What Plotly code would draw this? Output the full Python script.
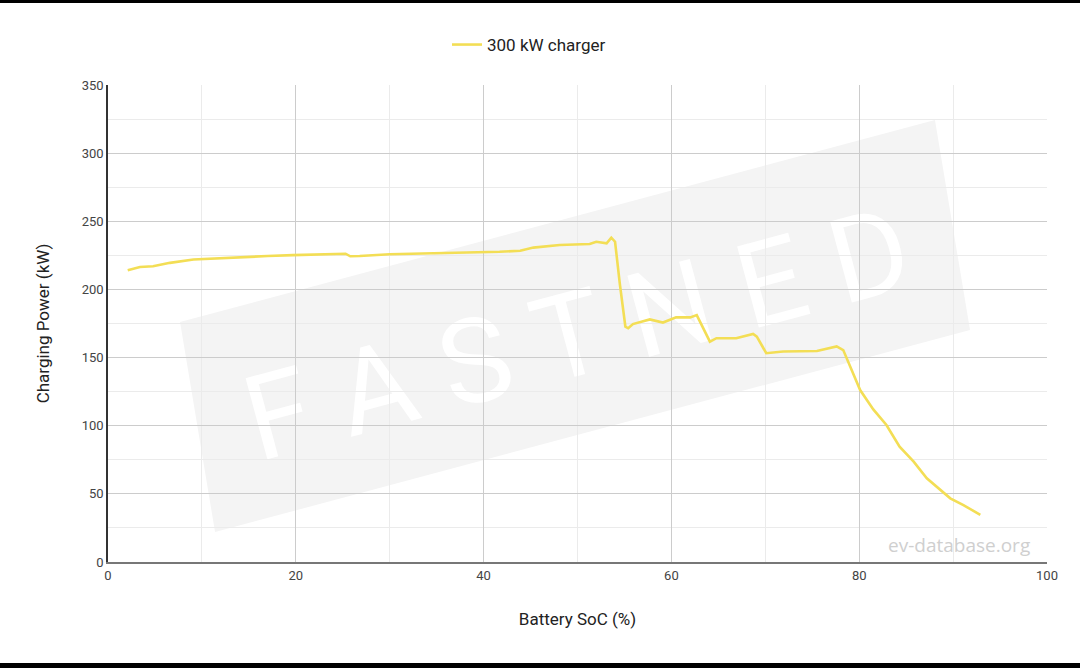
import plotly.graph_objects as go

# Data
soc = [2.1, 3.4, 4.8, 6.6, 9.1, 11.9, 14.4, 17.0, 19.7, 22.0, 24.7, 25.3, 25.8, 26.8,
       30.0, 35.0, 40.0, 41.7, 43.9, 45.3, 48.1, 51.3, 52.0, 53.1, 53.6, 54.0, 54.5,
       55.1, 55.4, 55.9, 57.7, 59.1, 60.5, 62.0, 62.7, 63.4, 64.1, 64.8, 66.9, 68.7,
       69.1, 70.1, 71.9, 75.5, 77.6, 78.3, 80.1, 81.5, 82.9, 84.3, 85.8, 87.2, 88.5,
       89.7, 91.1, 92.9]
power = [214.0, 216.5, 217.0, 219.5, 222.0, 223.0, 224.0, 224.5, 225.2, 225.8, 226.4,
         226.2, 224.3, 224.5, 225.8, 226.5, 227.0, 227.6, 228.4, 230.7, 232.6, 233.3,
         235.0, 233.8, 238.0, 235.0, 204.5, 172.7, 171.5, 174.6, 178.0, 175.7, 179.5,
         179.5, 181.2, 171.5, 161.7, 164.2, 164.2, 167.3, 165.4, 153.2, 154.4, 154.8,
         158.2, 155.5, 126.2, 112.0, 100.5, 84.6, 73.6, 61.4, 54.0, 46.7, 41.8, 34.5]
series_name = "300 kW charger"
x_ticks = [0, 20, 40, 60, 80, 100]
y_ticks = [0, 50, 100, 150, 200, 250, 300, 350]

FONT = "Roboto, Arial, sans-serif"

fig = go.Figure()
fig.add_trace(go.Scatter(
    x=soc, y=power, mode="lines", name=series_name,
    line=dict(color="#f3de55", width=2.6),
))

# watermark (decoration)
def d(px, py):
    return (px - 108) / 939, (562 - py) / 477
pts = [d(180, 322), d(935, 120), d(970, 330), d(215, 532)]
path = "M " + " L ".join(f"{a:.4f},{b:.4f}" for a, b in pts) + " Z"

fig.add_shape(
    type="path", path=path, xref="x domain", yref="y domain", layer="below",
    fillcolor="#f4f4f4", line=dict(width=0),
    label=dict(text="F A S T N E D", textangle=-15,
               font=dict(family=FONT, size=118, color="#ffffff")),
)

# black frame bands of the screenshot
fig.add_shape(type="rect", xref="paper", yref="paper", x0=-0.2, x1=1.1,
              y0=(562 - 3) / 477, y1=(562 + 10) / 477, fillcolor="black",
              line=dict(width=0), layer="above")
fig.add_shape(type="rect", xref="paper", yref="paper", x0=-0.2, x1=1.1,
              y0=(562 - 663) / 477, y1=(562 - 680) / 477, fillcolor="black",
              line=dict(width=0), layer="above")

fig.add_annotation(
    text="ev-database.org", xref="paper", yref="paper",
    x=(1032 - 108) / 939, y=(562 - 545) / 477, xanchor="right", yanchor="middle",
    showarrow=False, font=dict(family="Open Sans, sans-serif", size=19, color="#cfcfcf"),
)

fig.update_layout(
    width=1080, height=668,
    margin=dict(l=108, r=33, t=85, b=106),
    paper_bgcolor="white", plot_bgcolor="rgba(0,0,0,0)",
    font=dict(family=FONT, color="#444"),
    showlegend=True,
    legend=dict(orientation="h", x=(447 - 108) / 939, xanchor="left",
                y=(562 - 45) / 477, yanchor="middle",
                font=dict(family=FONT, size=17, color="#222"), itemwidth=30),
)
fig.update_xaxes(
    range=[0, 100], tickvals=x_ticks, ticktext=[str(v) for v in x_ticks],
    showgrid=True, gridcolor="#cccccc", gridwidth=1,
    minor=dict(dtick=10, showgrid=True, gridcolor="#ebebeb", gridwidth=1),
    showline=True, linecolor="#777777", linewidth=2,
    zeroline=False, ticks="", tickfont=dict(size=13, color="#444"),
    title=dict(text="Battery SoC (%)", font=dict(size=17, color="#222"), standoff=32),
)
fig.update_yaxes(
    range=[0, 350], tickvals=y_ticks, ticktext=[str(v) for v in y_ticks],
    showgrid=True, gridcolor="#cccccc", gridwidth=1,
    minor=dict(dtick=25, showgrid=True, gridcolor="#ebebeb", gridwidth=1),
    showline=True, linecolor="#333333", linewidth=1.5,
    zeroline=False, ticks="", tickfont=dict(size=13, color="#444"),
    title=dict(text="Charging Power (kW)", font=dict(size=17, color="#222"), standoff=28),
)

fig.write_html(
    "out.html",
    config={"displayModeBar": False},
    post_script="document.body.style.margin='0';document.body.style.overflow='hidden';",
)
